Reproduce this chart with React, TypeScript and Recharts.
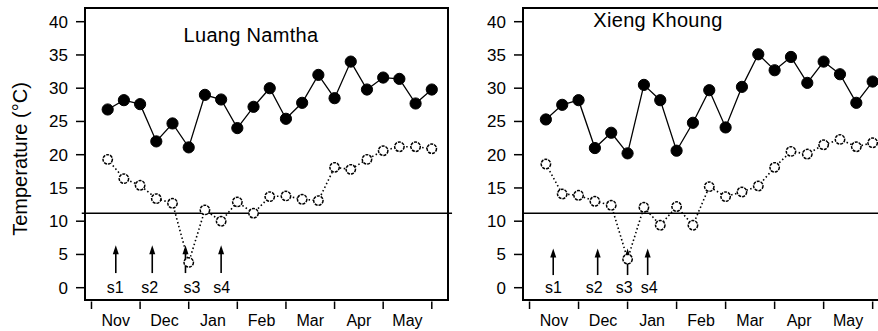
import {
  Line,
  LineChart,
  ReferenceArea,
  ReferenceDot,
  ReferenceLine,
  XAxis,
  YAxis,
} from "recharts";

/* Two dekad temperature panels (max = filled, min = open) with a
   threshold line and sampling arrows s1–s4. Right panel is cropped
   at the page edge, as in the source figure. */

const FONT = "'Liberation Sans', Arial, Helvetica, sans-serif";

const DEKADS = Array.from({ length: 21 }, (_, i) => i);
const MONTHS = ["Nov", "Dec", "Jan", "Feb", "Mar", "Apr", "May"];
const MONTH_EDGES = [-1, 2, 5, 8, 11, 14, 17, 20];
const MONTH_MIDS = [0.5, 3.5, 6.5, 9.5, 12.5, 15.5, 18.5];
const Y_TICKS = [0, 5, 10, 15, 20, 25, 30, 35, 40];
const THRESHOLD = 11.2;
const SAMPLES = ["s1", "s2", "s3", "s4"];

const LN_MAX = [26.8, 28.2, 27.6, 22.0, 24.7, 21.1, 29.0, 28.3, 24.0, 27.2, 30.0, 25.4, 27.8, 32.0, 28.5, 34.0, 29.8, 31.6, 31.4, 27.7, 29.8];
const LN_MIN = [19.3, 16.4, 15.4, 13.4, 12.7, 3.8, 11.7, 10.0, 12.9, 11.2, 13.7, 13.8, 13.3, 13.1, 18.1, 17.8, 19.3, 20.6, 21.2, 21.2, 20.9];
const LN_ARROW_X = [0.5, 2.75, 4.8, 7.0];
const LN_LABEL_X = [0.47, 2.6, 5.2, 7.04];

const XK_MAX = [25.3, 27.5, 28.2, 21.0, 23.3, 20.2, 30.5, 28.2, 20.6, 24.8, 29.7, 24.1, 30.2, 35.1, 32.7, 34.7, 30.8, 34.0, 32.1, 27.8, 31.0];
const XK_MIN = [18.6, 14.1, 13.9, 13.0, 12.4, 4.3, 12.1, 9.4, 12.2, 9.4, 15.2, 13.7, 14.4, 15.3, 18.1, 20.5, 20.1, 21.5, 22.3, 21.2, 21.8];
const XK_ARROW_X = [0.45, 3.17, 5.0, 6.23];
const XK_LABEL_X = [0.47, 2.96, 4.8, 6.33];

const X_DOMAIN: [number, number] = [-1.4, 21];
const Y_DOMAIN: [number, number] = [-1.85, 42.06];

const MonthTick = (props: any) => {
  const { x, y, payload } = props;
  const v = payload.value;
  if (MONTH_EDGES.includes(v)) {
    return <line x1={x} x2={x} y1={y + 1.5} y2={y + 9} stroke="#000" strokeWidth={1.5} />;
  }
  const m = MONTH_MIDS.indexOf(v);
  return (
    <text x={x} y={y + 26} textAnchor="middle" fontSize={16} fontFamily={FONT} fill="#000">
      {MONTHS[m]}
    </text>
  );
};

const Arrow = (p: any) => {
  const { x1, y1, y2 } = p;
  const top = Math.min(y1, y2);
  const bot = Math.max(y1, y2);
  return (
    <g>
      <line x1={x1} x2={x1} y1={top + 4} y2={bot} stroke="#000" strokeWidth={1.6} />
      <path d={`M${x1},${top} L${x1 - 3},${top + 9} L${x1 + 3},${top + 9} Z`} fill="#000" />
    </g>
  );
};

function Panel({
  left,
  axisWidth,
  width,
  maxs,
  mins,
  arrows,
  labels,
  arrowTop,
  arrowBottom,
  yLabel,
  lineFrom,
  lineTo,
}: {
  left: number;
  axisWidth: number;
  width: number;
  maxs: number[];
  mins: number[];
  arrows: number[];
  labels: number[];
  arrowTop: number;
  arrowBottom: number;
  yLabel: boolean;
  lineFrom: number;
  lineTo: number;
}) {
  const data = DEKADS.map((d, i) => ({ d, max: maxs[i], min: mins[i] }));
  return (
    <div style={{ position: "absolute", left, top: 0 }}>
      <LineChart width={width} height={331} data={data} margin={{ top: 8, right: 13, bottom: 0, left: 0 }}>
        <XAxis
          dataKey="d"
          type="number"
          domain={X_DOMAIN}
          allowDataOverflow
          ticks={[...MONTH_EDGES, ...MONTH_MIDS].sort((a, b) => a - b)}
          interval={0}
          tickLine={false}
          axisLine={false}
          tickSize={0}
          tickMargin={0}
          height={31}
          tick={<MonthTick />}
        />
        <YAxis
          type="number"
          domain={Y_DOMAIN}
          allowDataOverflow
          ticks={Y_TICKS}
          interval={0}
          width={axisWidth}
          axisLine={false}
          tickSize={9}
          tickMargin={8}
          tickLine={{ stroke: "#000", strokeWidth: 1.5 }}
          tick={{ fill: "#000", fontSize: 17, fontFamily: FONT }}
          label={
            yLabel
              ? {
                  content: (lp: any) => {
                    const vb = lp.viewBox || { x: 0, y: 8, height: 292 };
                    const cx = vb.x + 20;
                    const cy = vb.y + vb.height / 2 + 5;
                    return (
                      <text
                        x={cx}
                        y={cy}
                        transform={`rotate(-90 ${cx} ${cy})`}
                        textAnchor="middle"
                        dominantBaseline="central"
                        fontSize={20}
                        fontFamily={FONT}
                        fill="#000"
                      >
                        Temperature (°C)
                      </text>
                    );
                  },
                }
              : undefined
          }
        />
        <ReferenceLine
          segment={[
            { x: lineFrom, y: THRESHOLD },
            { x: lineTo, y: THRESHOLD },
          ]}
          stroke="#000"
          strokeWidth={1.5}
          ifOverflow="visible"
        />
        <Line
          dataKey="min"
          type="linear"
          stroke="#000"
          strokeWidth={1.6}
          strokeDasharray="1.5 2.5"
          dot={{ r: 4.7, fill: "#fff", stroke: "#000", strokeWidth: 1.5, strokeDasharray: "3 1" }}
          isAnimationActive={false}
        />
        <Line
          dataKey="max"
          type="linear"
          stroke="#000"
          strokeWidth={1.3}
          dot={{ r: 5.6, fill: "#000", stroke: "#000", strokeWidth: 1 }}
          isAnimationActive={false}
        />
        {arrows.map((x, i) => (
          <ReferenceLine
            key={`a${i}`}
            segment={[
              { x, y: arrowBottom },
              { x, y: arrowTop },
            ]}
            shape={<Arrow />}
            ifOverflow="visible"
          />
        ))}
        {labels.map((x, i) => (
          <ReferenceDot
            key={`l${i}`}
            x={x}
            y={0}
            r={0}
            fill="none"
            stroke="none"
            label={{ value: SAMPLES[i], position: "center", fill: "#000", fontSize: 16, fontFamily: FONT }}
          />
        ))}
        <ReferenceArea
          x1={X_DOMAIN[0]}
          x2={X_DOMAIN[1]}
          y1={Y_DOMAIN[0]}
          y2={Y_DOMAIN[1]}
          fill="none"
          fillOpacity={0}
          stroke="#000"
          strokeWidth={2}
          ifOverflow="visible"
        />
      </LineChart>
    </div>
  );
}

const titleStyle = {
  position: "absolute" as const,
  width: 240,
  textAlign: "center" as const,
  fontFamily: FONT,
  fontSize: 20,
  lineHeight: "20px",
  letterSpacing: 0.3,
  color: "#000",
};

export default function App() {
  return (
    <div
      style={{
        position: "absolute",
        left: 0,
        top: 0,
        width: 878,
        height: 331,
        overflow: "hidden",
        background: "#fff",
      }}
    >
      <Panel
        left={0}
        axisWidth={85}
        width={461}
        maxs={LN_MAX}
        mins={LN_MIN}
        arrows={LN_ARROW_X}
        labels={LN_LABEL_X}
        arrowTop={6.4}
        arrowBottom={2.2}
        yLabel
        lineFrom={-1.6}
        lineTo={21.25}
      />
      <Panel
        left={440}
        axisWidth={83}
        width={462}
        maxs={XK_MAX}
        mins={XK_MIN}
        arrows={XK_ARROW_X}
        labels={XK_LABEL_X}
        arrowTop={5.9}
        arrowBottom={1.9}
        yLabel={false}
        lineFrom={-1.4}
        lineTo={21}
      />
      <div style={{ ...titleStyle, left: 251 - 120, top: 25 }}>Luang Namtha</div>
      <div style={{ ...titleStyle, left: 658 - 120, top: 10 }}>Xieng Khoung</div>
    </div>
  );
}
